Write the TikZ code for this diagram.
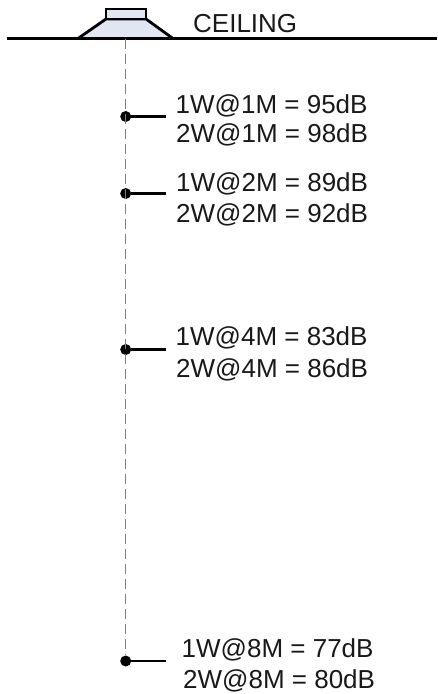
\documentclass[tikz,border=0pt]{standalone}
\usepackage{fontspec}
\setmainfont{Liberation Sans}
\definecolor{hornfill}{RGB}{224,231,243}
\tikzset{
  mic/.style={circle,fill=black,inner sep=0pt,minimum size=11pt},
  spl/.style={anchor=base west,inner sep=0pt,text=black!90,font=\fontsize{26}{30}\selectfont},
  stub/.style={line width=2.8pt},
  body/.style={draw=black,line width=2.8pt,fill=hornfill,line join=miter},
}
\begin{document}
\begin{tikzpicture}[x=1pt,y=-1pt]
  \useasboundingbox (0,0) rectangle (437,694);
  \coordinate (c0) at (7,38.5);
  \coordinate (c1) at (437,38.5);
  \coordinate (top) at (125.7,38.5);
  \node[mic] (m1) at (125.7,116.5) {};
  \node[mic] (m2) at (125.7,193.5) {};
  \node[mic] (m4) at (125.7,349.5) {};
  \node[mic] (m8) at (125.7,661) {};
  \coordinate (s1) at (166,116.5);
  \coordinate (s2) at (166,193.5);
  \coordinate (s4) at (166,349.5);
  \coordinate (s8) at (166,661);
  \draw[body] (78,38.5) -- (106,19) -- (146,19) -- (173,38.5) -- cycle;
  \draw[body] (106,9) rectangle (146,19);
  \draw[stub] (c0) -- (c1);
  \draw[gray,line width=0.7pt,dash pattern=on 10pt off 5pt] (top) -- (m8);
  \draw[stub] (m1) -- (s1);
  \draw[stub] (m2) -- (s2);
  \draw[stub] (m4) -- (s4);
  \draw[stub] (m8) -- (s8);
  \node[spl] (ceil) at (193,32) {CEILING};
  \node[spl] (a1) at (175.5,113) {1W@1M = 95dB};
  \node[spl] (b1) at (176,142) {2W@1M = 98dB};
  \node[spl] (a2) at (176,191) {1W@2M = 89dB};
  \node[spl] (b2) at (176,222) {2W@2M = 92dB};
  \node[spl] (a4) at (175.5,345.5) {1W@4M = 83dB};
  \node[spl] (b4) at (176,377) {2W@4M = 86dB};
  \node[spl] (a8) at (181.5,657) {1W@8M = 77dB};
  \node[spl] (b8) at (183,688.5) {2W@8M = 80dB};
\end{tikzpicture}
\end{document}
